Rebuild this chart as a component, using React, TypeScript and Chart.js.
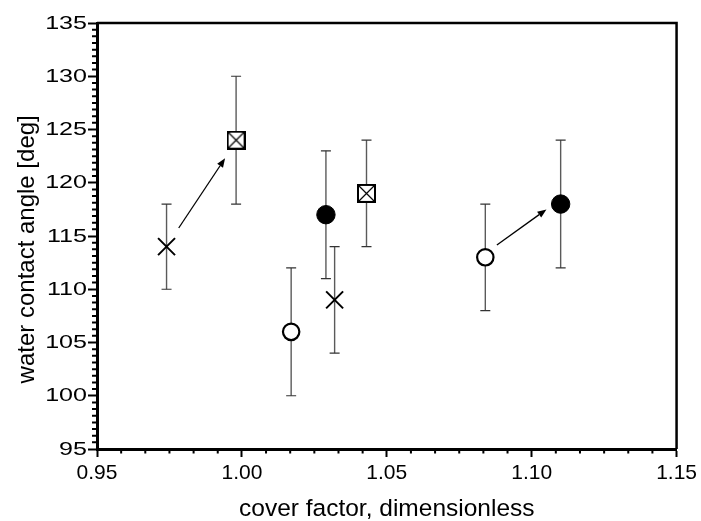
import React, { useEffect, useRef } from "react";
import { Chart, registerables } from "chart.js";

Chart.register(...registerables);

// axis ranges and tick settings
const xMin = 0.95;
const xMax = 1.15;
const xStep = 0.05;
const yMin = 95;
const yMax = 135;
const yStep = 5;
const xMinorDivisions = 6;
const yMinorDivisions = 8;

const xTitle = "cover factor, dimensionless";
const yTitle = "water contact angle [deg]";

// series: crosses
const crossX = [0.974, 1.032];
const crossY = [114, 109];
const crossLo = [110, 104];
const crossHi = [118, 114];

// series: boxed crosses
const boxX = [0.998, 1.043];
const boxY = [124, 119];
const boxLo = [118, 114];
const boxHi = [130, 124];

// series: open circles
const openX = [1.017, 1.084];
const openY = [106, 113];
const openLo = [100, 108];
const openHi = [112, 118];

// series: filled circles
const filledX = [1.029, 1.11];
const filledY = [117, 118];
const filledLo = [111, 112];
const filledHi = [123, 124];

// arrows (data coordinates)
const arrowFromX = [0.9782, 1.088];
const arrowFromY = [115.75, 114.15];
const arrowToX = [0.9942, 1.1051];
const arrowToY = [122.3, 117.5];

const FONT = "'Liberation Sans', Arial, Helvetica, sans-serif";

function pts(xs: number[], ys: number[]) {
  return xs.map((x, i) => ({ x, y: ys[i] }));
}

function makeBoxImage() {
  const c = document.createElement("canvas");
  c.width = 19;
  c.height = 19;
  const g = c.getContext("2d")!;
  g.fillStyle = "#fff";
  g.fillRect(1, 1, 17, 17);
  g.strokeStyle = "#000";
  g.lineWidth = 1.2;
  g.beginPath();
  g.moveTo(2, 2);
  g.lineTo(17, 17);
  g.moveTo(17, 2);
  g.lineTo(2, 17);
  g.stroke();
  g.lineWidth = 2;
  g.strokeRect(1, 1, 17, 17);
  return c;
}

const decorPlugin = {
  id: "decor",
  beforeDatasetsDraw(chart: any) {
    const ctx = chart.ctx;
    const xs = chart.scales.x;
    const ys = chart.scales.y;
    ctx.save();
    // error bars
    chart.data.datasets.forEach((ds: any) => {
      ds.data.forEach((p: any, i: number) => {
        const px = xs.getPixelForValue(p.x);
        const lo = ys.getPixelForValue(ds.errLo[i]);
        const hi = ys.getPixelForValue(ds.errHi[i]);
        ctx.strokeStyle = "#5a5a5a";
        ctx.lineWidth = 1.4;
        ctx.beginPath();
        ctx.moveTo(px, lo);
        ctx.lineTo(px, hi);
        ctx.stroke();
        ctx.strokeStyle = "#333";
        ctx.lineWidth = 1.2;
        ctx.beginPath();
        ctx.moveTo(px - 5, lo);
        ctx.lineTo(px + 5, lo);
        ctx.moveTo(px - 5, hi);
        ctx.lineTo(px + 5, hi);
        ctx.stroke();
      });
    });
    ctx.restore();
  },
  afterDatasetsDraw(chart: any) {
    const ctx = chart.ctx;
    const xs = chart.scales.x;
    const ys = chart.scales.y;
    ctx.save();
    ctx.strokeStyle = "#000";
    ctx.fillStyle = "#000";
    ctx.lineWidth = 1.3;
    arrowFromX.forEach((fx, i) => {
      const x1 = xs.getPixelForValue(fx);
      const y1 = ys.getPixelForValue(arrowFromY[i]);
      const x2 = xs.getPixelForValue(arrowToX[i]);
      const y2 = ys.getPixelForValue(arrowToY[i]);
      const ang = Math.atan2(y2 - y1, x2 - x1);
      const len = 9;
      const hw = 3.5;
      const bx = x2 - len * Math.cos(ang);
      const by = y2 - len * Math.sin(ang);
      ctx.beginPath();
      ctx.moveTo(x1, y1);
      ctx.lineTo(bx, by);
      ctx.stroke();
      ctx.beginPath();
      ctx.moveTo(x2, y2);
      ctx.lineTo(bx + hw * Math.sin(ang), by - hw * Math.cos(ang));
      ctx.lineTo(bx - hw * Math.sin(ang), by + hw * Math.cos(ang));
      ctx.closePath();
      ctx.fill();
    });
    ctx.restore();
  },
  afterDraw(chart: any) {
    const ctx = chart.ctx;
    const xs = chart.scales.x;
    const ys = chart.scales.y;
    const a = chart.chartArea;
    ctx.save();
    ctx.strokeStyle = "#000";
    // top and right frame
    ctx.lineWidth = 2.5;
    ctx.beginPath();
    ctx.moveTo(a.left, a.top);
    ctx.lineTo(a.right, a.top);
    ctx.lineTo(a.right, a.bottom);
    ctx.stroke();
    // minor ticks
    ctx.lineWidth = 2;
    ctx.beginPath();
    const xMinor = xStep / xMinorDivisions;
    const nx = Math.round((xMax - xMin) / xMinor);
    for (let i = 0; i <= nx; i++) {
      if (i % xMinorDivisions === 0) continue;
      const px = xs.getPixelForValue(xMin + i * xMinor);
      ctx.moveTo(px, a.bottom);
      ctx.lineTo(px, a.bottom + 4.5);
    }
    const yMinor = yStep / yMinorDivisions;
    const ny = Math.round((yMax - yMin) / yMinor);
    for (let i = 0; i <= ny; i++) {
      if (i % yMinorDivisions === 0) continue;
      const py = ys.getPixelForValue(yMin + i * yMinor);
      ctx.moveTo(a.left - 5, py);
      ctx.lineTo(a.left, py);
    }
    ctx.stroke();
    // y tick labels (horizontally widened, as in the reference)
    ctx.fillStyle = "#000";
    ctx.font = `19px ${FONT}`;
    ctx.textAlign = "right";
    ctx.textBaseline = "middle";
    const stretch = 1.32;
    ys.ticks.forEach((t: any) => {
      const py = ys.getPixelForValue(t.value);
      ctx.save();
      ctx.translate(a.left - 10, py + 0.5);
      ctx.scale(stretch, 1);
      ctx.fillText(String(Math.round(t.value)), 0, 0);
      ctx.restore();
    });
    ctx.restore();
  },
};

export default function App() {
  const ref = useRef<HTMLCanvasElement | null>(null);
  useEffect(() => {
    if (!ref.current) return;
    const boxImg = makeBoxImage();
    const chart = new Chart(ref.current, {
      type: "scatter",
      data: {
        datasets: [
          {
            data: pts(crossX, crossY),
            errLo: crossLo,
            errHi: crossHi,
            pointStyle: "crossRot",
            pointRadius: 12,
            borderColor: "#000",
            backgroundColor: "#000",
            borderWidth: 2,
          } as any,
          {
            data: pts(boxX, boxY),
            errLo: boxLo,
            errHi: boxHi,
            pointStyle: boxImg,
            pointRadius: 10,
          } as any,
          {
            data: pts(openX, openY),
            errLo: openLo,
            errHi: openHi,
            pointStyle: "circle",
            pointRadius: 8.2,
            borderColor: "#000",
            backgroundColor: "#fff",
            borderWidth: 2.2,
          } as any,
          {
            data: pts(filledX, filledY),
            errLo: filledLo,
            errHi: filledHi,
            pointStyle: "circle",
            pointRadius: 9.2,
            borderColor: "#000",
            backgroundColor: "#000",
            borderWidth: 1,
          } as any,
        ],
      },
      options: {
        animation: false,
        responsive: false,
        devicePixelRatio: 1,
        layout: { padding: { top: 23, right: 21, left: 0, bottom: 0 } },
        plugins: {
          legend: { display: false },
          tooltip: { enabled: false },
        },
        scales: {
          x: {
            type: "linear",
            min: xMin,
            max: xMax,
            afterFit: (s: any) => {
              s.height = 72;
            },
            ticks: {
              stepSize: xStep,
              color: "#000",
              padding: 4,
              font: { family: FONT, size: 21 },
              callback: (v: any) => Number(v).toFixed(2),
            },
            grid: {
              drawOnChartArea: false,
              drawTicks: true,
              tickLength: 8,
              tickWidth: 2,
              tickColor: "#000",
            },
            border: { display: true, color: "#000", width: 3 },
            title: {
              display: true,
              text: xTitle,
              color: "#000",
              font: { family: FONT, size: 24.5 },
              padding: { top: 0, bottom: -3 },
            },
          },
          y: {
            type: "linear",
            min: yMin,
            max: yMax,
            afterFit: (s: any) => {
              s.width = 97;
            },
            ticks: {
              stepSize: yStep,
              color: "rgba(0,0,0,0)",
              padding: 1,
              font: { family: FONT, size: 19 },
              callback: (v: any) => String(Math.round(Number(v))),
            },
            grid: {
              drawOnChartArea: false,
              drawTicks: true,
              tickLength: 9,
              tickWidth: 2,
              tickColor: "#000",
            },
            border: { display: true, color: "#000", width: 3 },
            title: {
              display: true,
              text: yTitle + "    ",
              color: "#000",
              font: { family: FONT, size: 24 },
              padding: { top: 12.6, bottom: 0 },
            },
          },
        },
      } as any,
      plugins: [decorPlugin],
    });
    return () => chart.destroy();
  }, []);
  return (
    <div style={{ position: "absolute", left: 0, top: 0, width: 701, height: 521, background: "#fff" }}>
      <canvas ref={ref} width={701} height={521} style={{ width: 701, height: 521, display: "block" }} />
    </div>
  );
}
